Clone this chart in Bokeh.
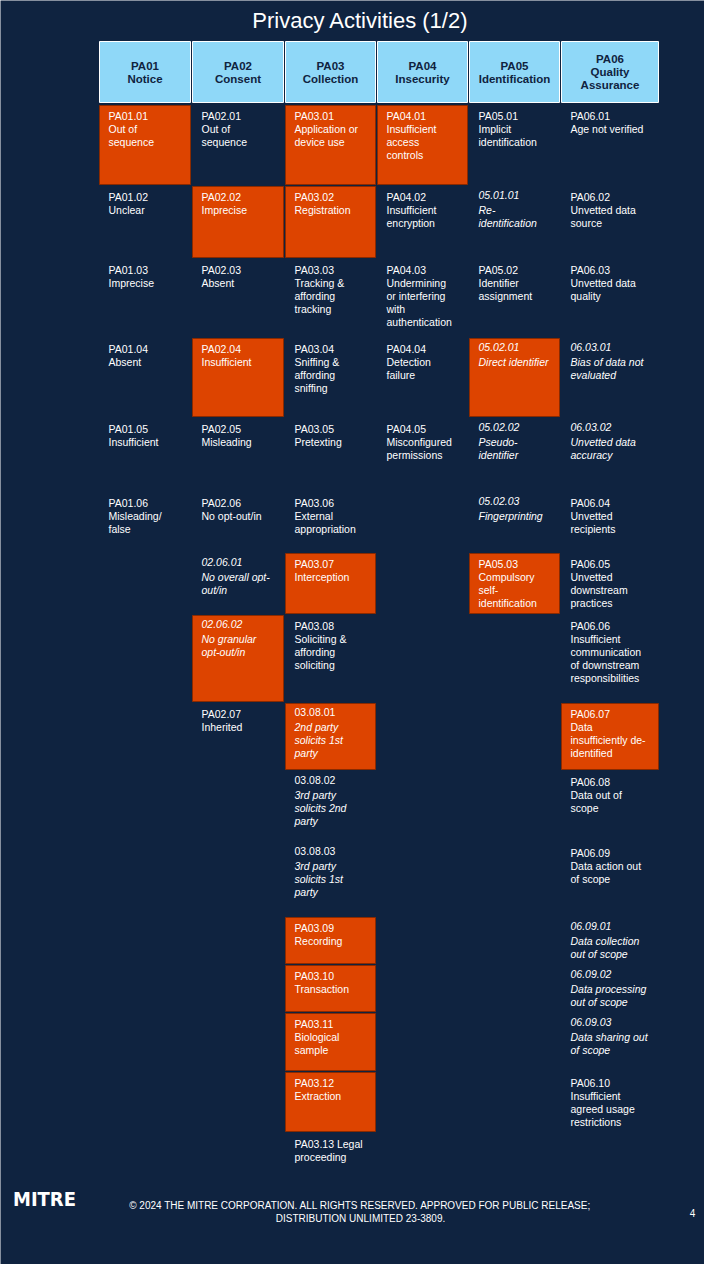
from bokeh.plotting import figure
from bokeh.models import ColumnDataSource, Range1d
from bokeh.core.properties import value
from bokeh.embed import file_html
from bokeh.resources import INLINE

BG = "#0f2340"
ORANGE = "#dd4400"
HEAD = "#8fd8f8"
FONT = "Liberation Sans"

title = "Privacy Activities (1/2)"
headers = ["PA01\nNotice", "PA02\nConsent", "PA03\nCollection", "PA04\nInsecurity",
           "PA05\nIdentification", "PA06\nQuality\nAssurance"]
col_left = [99, 192, 285, 377, 469, 561]
col_width = [91, 91, 90, 90, 90, 97]
row_top = [105, 186, 259, 338, 418, 492, 553, 615, 703, 771, 842, 917, 965, 1013, 1072, 1133]
row_bot = [184, 257, 337, 416, 490, 551, 613, 701, 769, 840, 914, 963, 1011, 1070, 1131, 1166]

# (column, row, text, orange, style)  style: n = normal, i = italic, b = body italic
cells = [
    (0, 0, "PA01.01\nOut of\nsequence", True, "n"),
    (0, 1, "PA01.02\nUnclear", False, "n"),
    (0, 2, "PA01.03\nImprecise", False, "n"),
    (0, 3, "PA01.04\nAbsent", False, "n"),
    (0, 4, "PA01.05\nInsufficient", False, "n"),
    (0, 5, "PA01.06\nMisleading/\nfalse", False, "n"),
    (1, 0, "PA02.01\nOut of\nsequence", False, "n"),
    (1, 1, "PA02.02\nImprecise", True, "n"),
    (1, 2, "PA02.03\nAbsent", False, "n"),
    (1, 3, "PA02.04\nInsufficient", True, "n"),
    (1, 4, "PA02.05\nMisleading", False, "n"),
    (1, 5, "PA02.06\nNo opt-out/in", False, "n"),
    (1, 6, "02.06.01\nNo overall opt-\nout/in", False, "i"),
    (1, 7, "02.06.02\nNo granular\nopt-out/in", True, "i"),
    (1, 8, "PA02.07\nInherited", False, "n"),
    (2, 0, "PA03.01\nApplication or\ndevice use", True, "n"),
    (2, 1, "PA03.02\nRegistration", True, "n"),
    (2, 2, "PA03.03\nTracking &\naffording\ntracking", False, "n"),
    (2, 3, "PA03.04\nSniffing &\naffording\nsniffing", False, "n"),
    (2, 4, "PA03.05\nPretexting", False, "n"),
    (2, 5, "PA03.06\nExternal\nappropriation", False, "n"),
    (2, 6, "PA03.07\nInterception", True, "n"),
    (2, 7, "PA03.08\nSoliciting &\naffording\nsoliciting", False, "n"),
    (2, 8, "03.08.01\n2nd party\nsolicits 1st\nparty", True, "b"),
    (2, 9, "03.08.02\n3rd party\nsolicits 2nd\nparty", False, "b"),
    (2, 10, "03.08.03\n3rd party\nsolicits 1st\nparty", False, "b"),
    (2, 11, "PA03.09\nRecording", True, "n"),
    (2, 12, "PA03.10\nTransaction", True, "n"),
    (2, 13, "PA03.11\nBiological\nsample", True, "n"),
    (2, 14, "PA03.12\nExtraction", True, "n"),
    (2, 15, "PA03.13 Legal\nproceeding", False, "n"),
    (3, 0, "PA04.01\nInsufficient\naccess\ncontrols", True, "n"),
    (3, 1, "PA04.02\nInsufficient\nencryption", False, "n"),
    (3, 2, "PA04.03\nUndermining\nor interfering\nwith\nauthentication", False, "n"),
    (3, 3, "PA04.04\nDetection\nfailure", False, "n"),
    (3, 4, "PA04.05\nMisconfigured\npermissions", False, "n"),
    (4, 0, "PA05.01\nImplicit\nidentification", False, "n"),
    (4, 1, "05.01.01\nRe-\nidentification", False, "i"),
    (4, 2, "PA05.02\nIdentifier\nassignment", False, "n"),
    (4, 3, "05.02.01\nDirect identifier", True, "i"),
    (4, 4, "05.02.02\nPseudo-\nidentifier", False, "i"),
    (4, 5, "05.02.03\nFingerprinting", False, "i"),
    (4, 6, "PA05.03\nCompulsory\nself-\nidentification", True, "n"),
    (5, 0, "PA06.01\nAge not verified", False, "n"),
    (5, 1, "PA06.02\nUnvetted data\nsource", False, "n"),
    (5, 2, "PA06.03\nUnvetted data\nquality", False, "n"),
    (5, 3, "06.03.01\nBias of data not\nevaluated", False, "i"),
    (5, 4, "06.03.02\nUnvetted data\naccuracy", False, "i"),
    (5, 5, "PA06.04\nUnvetted\nrecipients", False, "n"),
    (5, 6, "PA06.05\nUnvetted\ndownstream\npractices", False, "n"),
    (5, 7, "PA06.06\nInsufficient\ncommunication\nof downstream\nresponsibilities", False, "n"),
    (5, 8, "PA06.07\nData\ninsufficiently de-\nidentified", True, "n"),
    (5, 9, "PA06.08\nData out of\nscope", False, "n"),
    (5, 10, "PA06.09\nData action out\nof scope", False, "n"),
    (5, 11, "06.09.01\nData collection\nout of scope", False, "i"),
    (5, 12, "06.09.02\nData processing\nout of scope", False, "i"),
    (5, 13, "06.09.03\nData sharing out\nof scope", False, "i"),
    (5, 14, "PA06.10\nInsufficient\nagreed usage\nrestrictions", False, "n"),
]

footer = ["\u00a9 2024 THE MITRE CORPORATION. ALL RIGHTS RESERVED. APPROVED FOR PUBLIC RELEASE;",
          "DISTRIBUTION UNLIMITED 23-3809."]

# coordinates are screen pixels: the page margin of 8px is taken off the ranges
p = figure(width=704, height=1264, output_backend="svg", toolbar_location=None,
           x_range=Range1d(8, 712), y_range=Range1d(1272, 8), min_border=0,
           background_fill_color=BG, border_fill_color=BG, outline_line_color=None)
p.x_range = Range1d(0, 704)
p.y_range = Range1d(1264, 0)
p.axis.visible = False
p.grid.visible = False

p.text([360], [20], text=[title], text_color="white", text_font=value(FONT),
       text_font_size="22px", text_align="center", text_baseline="middle")

# header cells
hx = [l + w / 2 for l, w in zip(col_left, col_width)]
p.rect(hx, [71.5] * 6, width=col_width, height=61, fill_color=HEAD,
       line_color="white", line_width=1)
for x, h in zip(hx, headers):
    lines = h.split("\n")
    y0 = 71.5 - (len(lines) - 1) * 6.5
    p.text([x] * len(lines), [y0 + 13 * i for i in range(len(lines))], text=lines,
           text_color=BG, text_font=value(FONT), text_font_style="bold",
           text_font_size="11.5px", text_align="center", text_baseline="middle")

# orange cells
ox, oy, ow, oh = [], [], [], []
for c, r, t, o, s in cells:
    if o:
        ox.append(col_left[c] + col_width[c] / 2)
        oy.append((row_top[r] + row_bot[r]) / 2)
        ow.append(col_width[c])
        oh.append(row_bot[r] - row_top[r])
p.rect(ox, oy, width=ow, height=oh, fill_color=ORANGE, line_color="#8a2a00", line_width=1)

# cell text
src = {"normal": dict(x=[], y=[], t=[]), "italic": dict(x=[], y=[], t=[])}
for c, r, t, o, s in cells:
    for i, line in enumerate(t.split("\n")):
        ital = s == "i" or (s == "b" and i > 0)
        d = src["italic" if ital else "normal"]
        d["x"].append(col_left[c] + 9)
        d["y"].append(row_top[r] + 4 + 13 * i)
        d["t"].append(line)
for style, d in src.items():
    p.text("x", "y", text="t", source=ColumnDataSource(d), text_color="white",
           text_font=value(FONT), text_font_style=style, text_font_size="10.5px",
           text_align="left", text_baseline="top")

# footer
p.text([44], [1198], text=["MITRE"], text_color="white", text_font=value("DejaVu Sans Condensed"),
       text_font_style="bold", text_font_size="20px", text_align="center", text_baseline="middle")
p.text([360, 360], [1205, 1218], text=footer, text_color="white", text_font=value(FONT),
       text_font_size="10px", text_align="center", text_baseline="middle")
p.text([692], [1212], text=["4"], text_color="white", text_font=value(FONT),
       text_font_size="10px", text_align="center", text_baseline="middle")

open("out.html", "w").write(file_html(p, INLINE))
